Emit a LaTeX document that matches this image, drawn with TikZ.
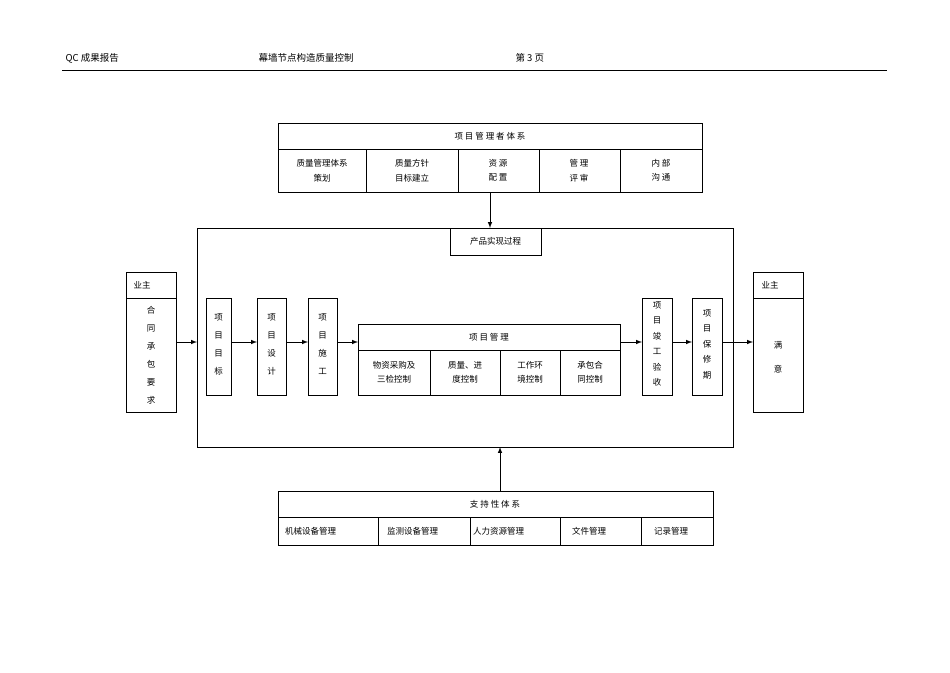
\documentclass[tikz,border=0pt]{standalone}
\usepackage{fontspec}
\setmainfont{Noto Sans CJK SC}
\begin{document}
\begin{tikzpicture}[x=1pt,y=-1pt,
 bx/.style={draw,line width=0.8pt},
 t/.style={font=\fontsize{8.5}{10}\selectfont,align=center,inner sep=0pt},
 vt/.style={font=\fontsize{8.5}{14.5}\selectfont,align=center,inner sep=0pt},
 ar/.style={-latex,line width=1pt}]
\useasboundingbox (0,0) rectangle (950,672);
\node[anchor=west,font=\fontsize{9.5}{11}\selectfont] (h1) at (62,58) {QC 成果报告};
\node[anchor=west,font=\fontsize{9.5}{11}\selectfont] (h2) at (255,58) {幕墙节点构造质量控制};
\node[anchor=west,font=\fontsize{9.5}{11}\selectfont] (h3) at (512,58) {第 3 页};
\draw[line width=0.6pt] (62,70) -- (887,70);
% top box
\draw[bx] (278,123) rectangle (702,192);
\draw[bx] (278,149) -- (702,149);
\foreach \x in {366,458,539,620} \draw[bx] (\x,149) -- (\x,192);
\node[t] (tt) at (490,136) {项\ 目\ 管\ 理\ 者\ 体\ 系};
\node[vt] (a1) at (322,170.5) {质量管理体系\\策划};
\node[vt] (a2) at (412,170.5) {质量方针\\目标建立};
\node[vt] (a3) at (498,170.5) {资\ 源\\配\ 置};
\node[vt] (a4) at (579,170.5) {管\ 理\\评\ 审};
\node[vt] (a5) at (661,170.5) {内\ 部\\沟\ 通};
\coordinate (topb) at (490,192);
\coordinate (frt) at (490,228);
\draw[ar] (topb) -- (frt);
% frame
\draw[line width=1pt] (197,228) rectangle (733,447);
\draw[bx] (450,228) rectangle (541,255);
\node[t] (pp) at (495.5,241.5) {产品实现过程};
% owners
\draw[bx] (126,272) rectangle (176,412); \draw[bx] (126,298) -- (176,298);
\node[t] (o1) at (142,285) {业主};
\node[font=\fontsize{8.5}{18}\selectfont,align=center,inner sep=0pt] (o1b) at (151,355) {合\\同\\承\\包\\要\\求};
\draw[bx] (753,272) rectangle (803,412); \draw[bx] (753,298) -- (803,298);
\node[t] (o2) at (770,285) {业主};
\node[font=\fontsize{8.5}{24}\selectfont,align=center,inner sep=0pt] (o2b) at (778,357) {满\\意};
% steps
\foreach \n/\a/\b/\txt in {s1/206/231/{项\\目\\目\\标}, s2/257/286/{项\\目\\设\\计}, s3/308/337/{项\\目\\施\\工}}{
 \draw[bx] (\a,298) rectangle (\b,395);
 \node[font=\fontsize{8.5}{18}\selectfont,align=center,inner sep=0pt] (\n) at ({(\a+\b)/2},344) {\txt};}
\foreach \n/\a/\b/\txt in {s5/642/672/{项\\目\\竣\\工\\验\\收}, s6/692/722/{项\\目\\保\\修\\期}}{
 \draw[bx] (\a,298) rectangle (\b,395);
 \node[font=\fontsize{8.5}{15.5}\selectfont,align=center,inner sep=0pt] (\n) at ({(\a+\b)/2},344) {\txt};}
\draw[bx] (358,324) rectangle (620,395); \draw[bx] (358,350) -- (620,350);
\foreach \x in {430,500,560} \draw[bx] (\x,350) -- (\x,395);
\node[t] (pm) at (489,337) {项\ 目\ 管\ 理};
\node[vt] (b1) at (394,372.5) {物资采购及\\三检控制};
\node[vt] (b2) at (465,372.5) {质量、进\\度控制};
\node[vt] (b3) at (530,372.5) {工作环\\境控制};
\node[vt] (b4) at (590,372.5) {承包合\\同控制};
\foreach \p/\q in {176/197,231/257,286/308,337/358,620/642,672/692,722/753}
 \draw[ar] (\p,342) -- (\q,342);
% bottom
\draw[bx] (278,491) rectangle (713,545); \draw[bx] (278,517) -- (713,517);
\foreach \x in {378,470,560,641} \draw[bx] (\x,517) -- (\x,545);
\node[t] (bt) at (495,504) {支\ 持\ 性\ 体\ 系};
\node[t,anchor=west] (c1) at (285,531) {机械设备管理};
\node[t,anchor=west] (c2) at (387,531) {监测设备管理};
\node[t,anchor=west] (c3) at (473,531) {人力资源管理};
\node[t,anchor=west] (c4) at (572,531) {文件管理};
\node[t,anchor=west] (c5) at (654,531) {记录管理};
\coordinate (bb) at (500,491); \coordinate (fb) at (500,447);
\draw[ar] (bb) -- (fb);
\end{tikzpicture}
\end{document}
